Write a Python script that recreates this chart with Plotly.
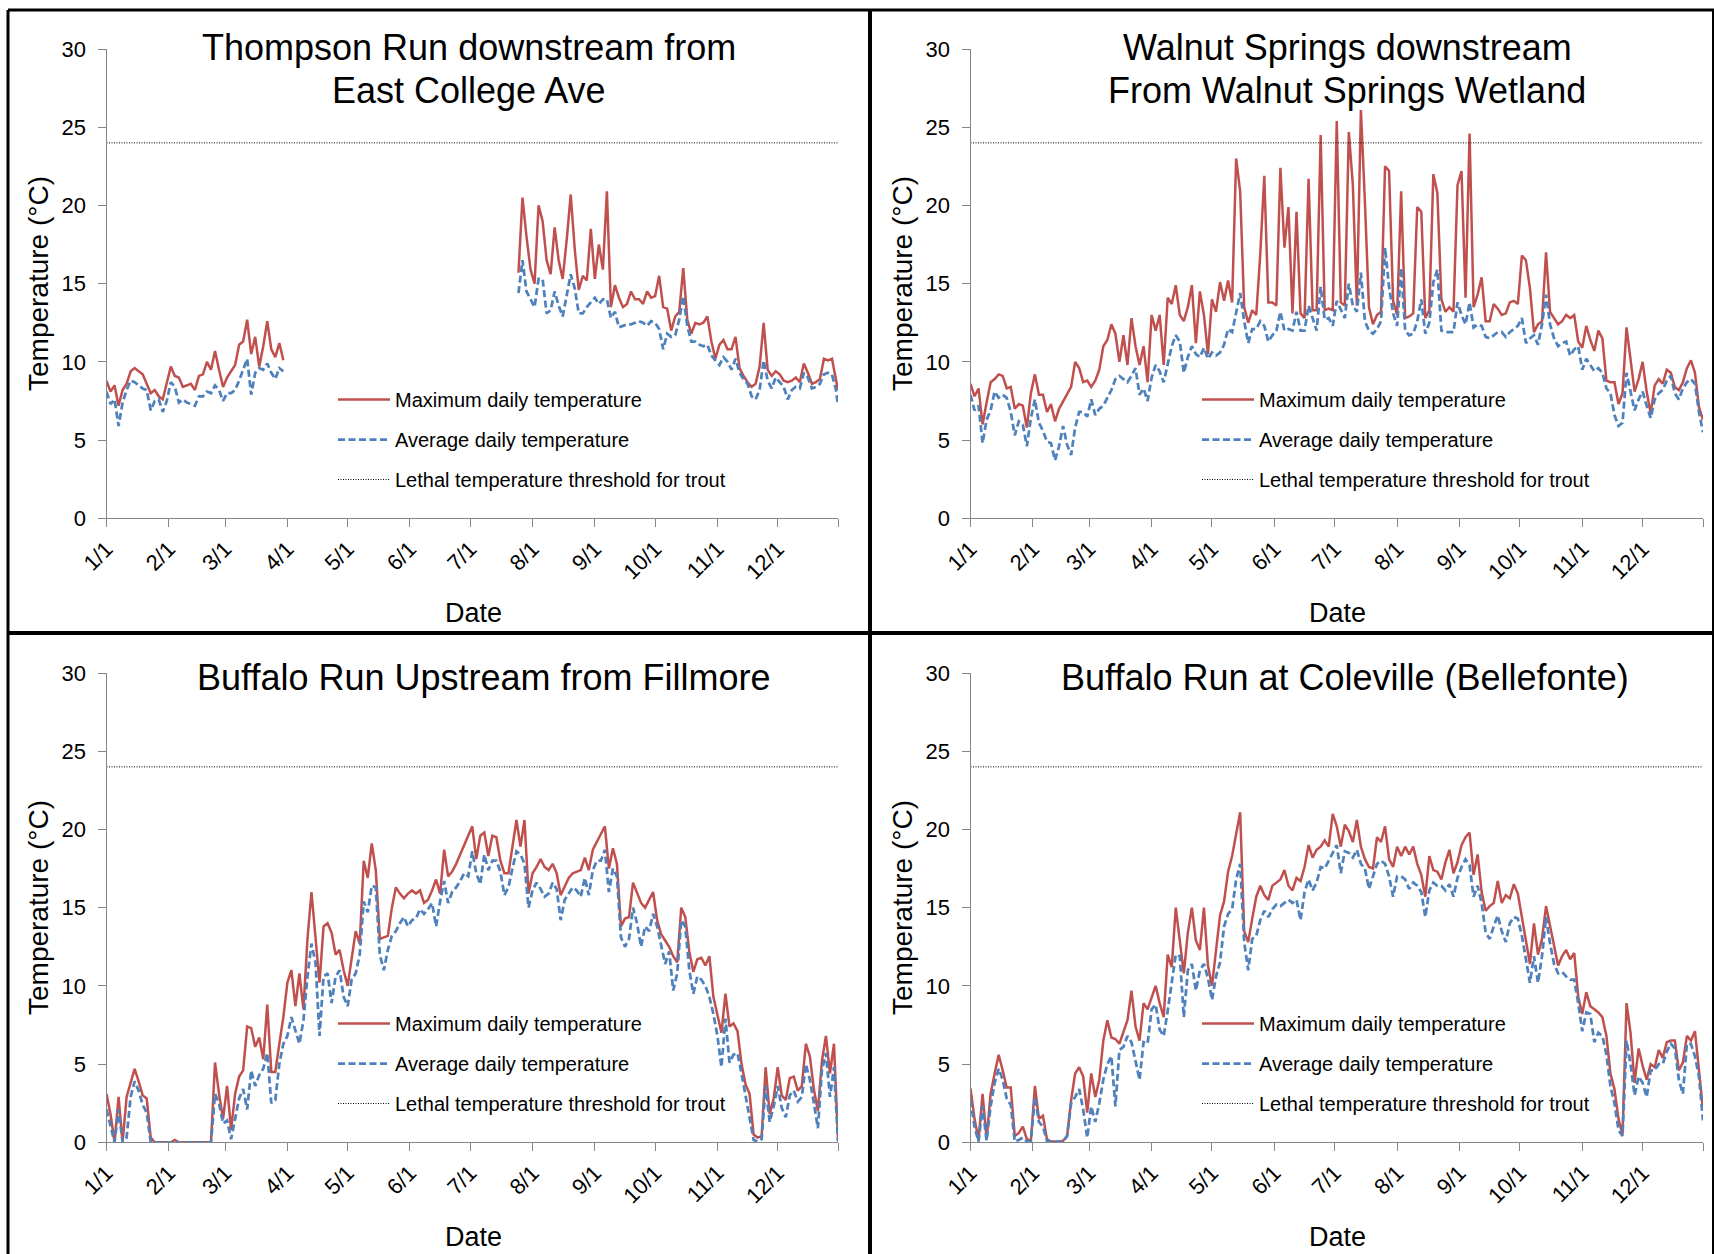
import pandas as pd
import plotly.graph_objects as go

# ---------------------------------------------------------------------------
# Data: daily water temperature (deg C), sampled every second day of the year
# (day 0 = 1 January). Thompson Run has a gap in the record (April - July).
# ---------------------------------------------------------------------------
YEAR_START = "2013-01-01"
YEAR_END = "2013-12-31"
THRESHOLD_C = 24  # lethal temperature threshold for trout

MONTH_TICKS = ["1/1", "2/1", "3/1", "4/1", "5/1", "6/1",
               "7/1", "8/1", "9/1", "10/1", "11/1", "12/1"]

ALL_DAYS = list(range(0, 365, 2))
THOMPSON_DAYS_A = list(range(0, 89, 2))
THOMPSON_DAYS_B = list(range(205, 364, 2)) + [364]

thompson_max_a = [8.8, 8.1, 8.5, 7.2, 8.2, 8.6, 9.4, 9.6, 9.4, 9.2,
                  8.6, 8.0, 8.2, 7.8, 7.6, 8.7, 9.7, 9.1, 9.0, 8.4,
                  8.5, 8.6, 8.2, 9.1, 9.2, 10.0, 9.5, 10.7, 9.5, 8.4,
                  9.0, 9.4, 9.8, 11.1, 11.3, 12.7, 10.5, 11.6, 9.7, 11.0,
                  12.6, 10.8, 10.3, 11.2, 10.1]
thompson_avg_a = [8.1, 7.3, 7.6, 5.9, 7.4, 8.2, 8.8, 8.7, 8.5, 8.3,
                  8.2, 6.9, 7.5, 7.6, 6.8, 7.5, 8.7, 8.4, 7.4, 7.6,
                  7.4, 7.3, 7.2, 7.8, 7.8, 8.1, 8.0, 8.5, 8.2, 7.5,
                  8.0, 8.0, 8.2, 8.8, 9.5, 10.2, 7.9, 9.3, 9.6, 9.5,
                  9.9, 9.3, 8.9, 9.6, 9.4]
thompson_max_b = [15.7, 20.5, 18.0, 15.9, 15.0, 20.0, 19.0, 16.5, 15.6, 18.6,
                  16.5, 15.3, 17.8, 20.7, 17.2, 14.6, 15.5, 15.2, 18.5, 15.3,
                  17.5, 15.9, 20.9, 13.5, 14.9, 14.1, 13.5, 13.7, 14.5, 14.0,
                  14.0, 13.7, 14.5, 14.1, 14.2, 15.5, 13.5, 13.4, 12.0, 12.9,
                  13.2, 16.0, 12.7, 11.8, 12.5, 12.4, 12.5, 12.9, 11.3, 10.2,
                  11.1, 11.4, 10.8, 10.8, 11.6, 9.6, 9.1, 8.7, 8.4, 8.6,
                  9.7, 12.5, 9.5, 9.1, 9.4, 9.2, 8.8, 8.7, 8.8, 9.0,
                  8.7, 9.9, 9.3, 8.6, 8.7, 8.9, 10.2, 10.1, 10.2, 8.8,
                  8.2]
thompson_avg_b = [14.4, 16.5, 14.5, 14.0, 13.5, 15.3, 15.3, 13.1, 13.3, 14.5,
                  13.6, 12.9, 14.3, 15.6, 14.7, 13.1, 13.1, 13.5, 13.8, 14.1,
                  13.7, 14.0, 14.0, 12.8, 13.2, 12.2, 12.3, 12.4, 12.4, 12.5,
                  12.6, 12.5, 12.3, 12.6, 12.5, 12.1, 10.8, 11.8, 11.6, 11.7,
                  12.7, 14.2, 12.3, 11.3, 11.3, 11.1, 11.0, 11.1, 10.4, 10.1,
                  9.8, 10.3, 10.0, 9.5, 10.2, 9.3, 8.9, 8.6, 7.8, 7.6,
                  8.2, 10.1, 8.8, 8.3, 9.0, 8.7, 8.4, 7.6, 8.2, 8.4,
                  8.3, 9.3, 9.0, 8.3, 8.4, 8.6, 9.2, 9.3, 9.2, 8.2,
                  7.2]

walnut_max = [8.6, 7.8, 8.3, 6.0, 7.4, 8.7, 8.9, 9.2, 9.1, 8.3,
              8.4, 7.0, 7.3, 7.2, 5.8, 8.0, 9.2, 7.9, 7.9, 6.8,
              7.3, 6.2, 7.0, 7.5, 8.0, 8.4, 10.0, 9.6, 8.7, 8.8,
              8.4, 8.8, 9.5, 11.0, 11.4, 12.4, 11.8, 10.0, 11.7, 9.8,
              12.8, 11.0, 9.8, 11.0, 8.7, 13.0, 12.0, 13.0, 9.8, 14.1,
              13.7, 14.9, 13.0, 12.6, 13.5, 14.9, 11.2, 14.5, 13.0, 10.5,
              14.0, 13.2, 15.1, 13.9, 15.2, 13.8, 23.0, 20.9, 13.5, 12.5,
              13.3, 13.0, 16.9, 21.9, 13.8, 13.8, 13.6, 22.4, 17.3, 19.9,
              13.1, 19.6, 13.1, 12.8, 21.7, 13.3, 13.3, 24.5, 13.3, 13.4,
              13.3, 25.4, 13.8, 13.6, 24.7, 21.3, 13.6, 26.1, 20.2, 13.5,
              12.4, 13.0, 13.2, 22.5, 22.2, 13.9, 13.0, 20.9, 12.8, 12.9,
              13.1, 19.9, 19.6, 12.8, 13.3, 22.0, 20.8, 14.0, 13.2, 13.5,
              13.2, 21.3, 22.2, 14.1, 24.6, 13.5, 14.3, 15.4, 12.6, 12.6,
              13.7, 13.4, 13.0, 13.1, 13.8, 13.9, 13.7, 16.8, 16.5, 14.7,
              11.9, 12.4, 12.6, 17.0, 13.2, 12.8, 12.4, 12.6, 13.0, 12.8,
              13.0, 11.3, 10.9, 12.3, 11.4, 10.7, 12.0, 11.5, 8.8, 8.7,
              8.7, 7.3, 8.0, 12.2, 10.0, 8.1, 8.9, 10.0, 8.1, 6.7,
              8.5, 8.9, 8.6, 9.5, 9.3, 8.4, 8.2, 8.7, 9.6, 10.1,
              9.3, 7.1, 6.3]
walnut_avg = [7.9, 6.9, 7.2, 4.8, 6.3, 6.9, 8.1, 7.7, 7.9, 7.7,
              6.8, 5.3, 6.2, 6.0, 4.6, 6.4, 7.6, 6.1, 5.6, 4.9,
              4.8, 3.7, 4.6, 5.9, 4.7, 4.05, 5.8, 6.8, 6.8, 6.5,
              7.6, 6.6, 7.0, 7.2, 7.7, 8.2, 8.9, 9.1, 8.9, 8.7,
              9.1, 9.6, 7.9, 8.3, 7.5, 9.0, 9.8, 9.4, 8.7, 9.9,
              11.0, 11.7, 11.3, 9.3, 10.3, 11.0, 10.5, 10.3, 10.9, 10.2,
              10.6, 10.4, 10.6, 11.1, 12.1, 11.9, 13.2, 14.4, 12.6, 11.2,
              12.1, 12.1, 12.6, 12.3, 11.3, 11.7, 12.0, 13.2, 12.0, 12.1,
              12.0, 13.2, 12.0, 12.0, 13.6, 12.8, 12.0, 14.8, 12.7, 12.8,
              12.3, 13.9, 13.3, 12.8, 15.0, 13.6, 13.2, 15.7, 12.6, 12.0,
              11.8, 12.1, 12.6, 17.3, 14.8, 13.1, 12.3, 16.0, 12.0, 11.7,
              11.8, 12.6, 14.0, 11.8, 12.5, 15.1, 15.9, 12.0, 11.9, 11.9,
              11.9, 13.8, 13.0, 12.4, 13.8, 12.2, 12.4, 12.3, 11.6, 11.5,
              11.7, 11.9, 11.9, 11.6, 11.9, 12.1, 12.3, 12.8, 11.2, 11.5,
              11.7, 11.1, 12.4, 14.3, 12.4, 11.5, 11.0, 11.2, 11.3, 10.4,
              10.8, 11.0, 9.5, 10.2, 9.8, 9.4, 9.6, 9.3, 8.3, 8.0,
              6.6, 5.9, 6.1, 9.3, 8.1, 6.9, 7.6, 8.1, 7.2, 6.4,
              7.6, 8.0, 8.2, 8.8, 9.1, 8.0, 7.6, 8.3, 8.7, 8.9,
              8.6, 6.8, 5.5]

fillmore_max = [3.1, 1.8, 0.0, 2.9, 0.0, 2.9, 3.8, 4.7, 3.9, 3.0,
                2.8, 0.3, 0.0, 0.0, 0.0, 0.0, 0.0, 0.15, 0.0, 0.0,
                0.0, 0.0, 0.0, 0.0, 0.0, 0.0, 0.0, 5.1, 3.1, 1.5,
                3.6, 0.8, 3.1, 4.2, 4.6, 7.4, 7.3, 6.1, 6.7, 5.3,
                8.8, 4.5, 4.5, 6.3, 8.0, 10.2, 11.0, 8.7, 10.8, 8.5,
                13.0, 16.0, 13.0, 10.2, 13.8, 14.0, 13.4, 12.0, 12.3, 11.0,
                10.0, 11.8, 13.5, 12.7, 18.0, 16.9, 19.1, 17.4, 13.0, 13.1,
                13.2, 15.0, 16.3, 15.9, 15.6, 15.9, 16.1, 15.9, 16.1, 15.3,
                15.5, 16.1, 16.8, 15.9, 18.7, 17.0, 17.3, 17.8, 18.4, 18.9,
                19.5, 20.2, 18.1, 19.6, 19.8, 18.3, 19.6, 19.5, 18.0, 17.2,
                17.2, 18.8, 20.6, 18.9, 20.6, 15.9, 17.2, 17.6, 18.1, 17.6,
                17.4, 17.8, 17.2, 15.8, 16.3, 16.9, 17.2, 17.3, 17.4, 18.2,
                17.4, 18.7, 19.2, 19.6, 20.2, 17.5, 18.8, 17.8, 13.8, 14.3,
                14.4, 16.6, 15.9, 15.3, 15.0, 15.5, 16.0, 14.2, 13.3, 12.9,
                12.5, 11.9, 11.5, 15.0, 14.4, 12.2, 10.9, 11.7, 11.8, 11.3,
                11.9, 9.3, 8.1, 7.0, 9.5, 7.4, 7.6, 7.1, 5.0, 3.7,
                3.1, 0.5, 0.3, 0.4, 4.8, 1.8, 2.8, 4.8, 3.0, 2.7,
                4.1, 4.2, 3.3, 3.6, 6.3, 5.5, 3.4, 2.0, 5.2, 6.8,
                4.4, 6.3, 0.2]
fillmore_avg = [2.1, 1.0, 0.0, 2.1, 0.0, 0.3, 2.9, 3.9, 3.3, 2.4,
                1.9, 0.0, 0.0, 0.0, 0.0, 0.0, 0.0, 0.0, 0.0, 0.0,
                0.0, 0.0, 0.0, 0.0, 0.0, 0.0, 0.0, 3.1, 2.5, 1.2,
                1.4, 0.2, 1.6, 2.8, 3.4, 2.1, 4.6, 3.6, 4.3, 4.7,
                5.7, 2.5, 2.7, 5.0, 6.3, 6.8, 8.0, 7.1, 6.3, 7.8,
                10.6, 12.7, 11.5, 6.8, 10.6, 10.8, 8.9, 10.6, 11.0, 9.3,
                8.7, 10.4, 10.8, 12.0, 15.4, 14.7, 16.4, 16.3, 12.0, 11.0,
                12.3, 13.2, 13.5, 14.0, 14.4, 13.8, 14.2, 14.3, 14.9, 14.6,
                14.9, 15.3, 13.8, 15.4, 16.7, 15.3, 16.0, 16.3, 16.7, 17.2,
                17.0, 18.6, 17.2, 16.5, 18.4, 17.4, 18.0, 18.0, 17.3, 15.8,
                16.3, 17.5, 18.6, 18.4, 17.8, 15.0, 16.1, 16.6, 16.2, 15.7,
                15.9, 16.6, 16.2, 14.2, 15.5, 15.9, 16.3, 16.1, 15.7, 16.9,
                15.8, 17.4, 18.0, 18.0, 18.7, 16.0, 17.5, 17.0, 13.1, 12.5,
                13.0, 15.0, 14.0, 12.5, 13.8, 13.5, 14.6, 13.8, 12.7, 11.4,
                12.2, 9.7, 10.8, 14.2, 13.8, 11.0, 9.5, 10.6, 10.4, 10.0,
                9.3, 8.2, 6.8, 4.8, 7.9, 5.1, 5.6, 5.7, 4.4, 2.9,
                1.4, 0.15, 0.05, 0.2, 3.6, 1.3, 2.3, 3.6, 2.2, 1.6,
                3.0, 3.3, 2.6, 2.9, 5.0, 4.0, 2.5, 0.9, 4.6, 5.7,
                2.9, 4.8, 0.05]

coleville_max = [3.45, 1.5, 0.15, 3.1, 0.25, 3.1, 4.4, 5.6, 4.6, 3.5,
                 3.5, 0.4, 0.6, 1.0, 0.2, 0.1, 3.6, 1.5, 1.7, 0.2,
                 0.05, 0.05, 0.05, 0.1, 0.4, 2.7, 4.4, 4.8, 4.2, 1.9,
                 4.4, 2.9, 4.0, 6.5, 7.8, 6.7, 6.6, 6.3, 7.0, 7.8,
                 9.7, 7.4, 6.5, 8.9, 8.5, 9.3, 10.0, 8.9, 8.0, 12.0,
                 11.2, 15.0, 12.9, 10.8, 13.4, 15.0, 12.9, 12.3, 15.0, 11.3,
                 10.0, 12.3, 14.5, 15.4, 17.3, 18.3, 19.8, 21.1, 13.5, 12.8,
                 14.3, 15.7, 16.4, 15.8, 15.5, 16.4, 16.6, 16.8, 17.4, 16.4,
                 16.1, 16.9, 16.7, 17.6, 19.0, 18.2, 18.7, 18.9, 19.3, 18.9,
                 21.0, 20.2, 18.9, 20.3, 19.9, 19.2, 20.6, 18.9, 18.1, 17.6,
                 17.5, 19.5, 19.2, 20.2, 18.1, 17.6, 18.9, 18.3, 18.9, 18.4,
                 18.9, 17.8, 17.1, 15.7, 18.3, 17.4, 17.3, 16.8, 17.9, 18.7,
                 17.2, 17.9, 19.0, 19.5, 19.8, 17.1, 18.4, 16.0, 14.8, 15.1,
                 15.3, 16.7, 15.3, 15.8, 15.6, 16.5, 15.9, 14.5, 12.9, 11.4,
                 14.0, 12.0, 13.0, 15.1, 13.8, 12.5, 11.3, 11.9, 12.3, 11.7,
                 12.1, 9.3, 8.2, 9.6, 8.7, 8.5, 8.3, 8.0, 6.8, 4.4,
                 3.4, 1.5, 0.5, 8.9, 7.0, 3.8, 6.0, 4.9, 4.0, 5.0,
                 4.8, 5.9, 5.4, 6.4, 6.5, 6.5, 4.6, 5.1, 6.8, 6.5,
                 7.1, 4.6, 2.1]
coleville_avg = [2.7, 1.0, 0.05, 2.3, 0.1, 2.3, 3.8, 4.7, 4.0, 2.8,
                 2.4, 0.05, 0.15, 0.3, 0.05, 0.1, 2.9, 1.3, 1.0, 0.1,
                 0.05, 0.05, 0.05, 0.05, 0.4, 2.5, 2.9, 3.4, 2.1, 0.3,
                 2.3, 1.3, 2.5, 4.0, 5.0, 5.5, 2.3, 5.9, 6.1, 6.8,
                 6.4, 5.3, 4.0, 6.4, 6.3, 8.5, 8.8, 7.2, 6.8, 8.4,
                 10.2, 12.0, 11.9, 8.0, 11.0, 11.4, 9.7, 11.0, 11.4, 10.5,
                 9.1, 10.6, 11.5, 13.8, 14.6, 14.9, 16.8, 17.8, 12.8, 11.0,
                 13.0, 13.2, 14.2, 14.8, 14.4, 14.9, 15.2, 15.1, 15.3, 15.5,
                 15.3, 15.5, 14.2, 16.0, 16.8, 16.1, 16.6, 17.6, 17.5, 18.0,
                 18.6, 19.0, 17.2, 18.6, 18.5, 18.2, 18.7, 17.8, 17.5, 16.2,
                 17.0, 17.8, 18.0, 17.8, 17.0, 15.7, 17.0, 17.0, 16.8, 16.2,
                 16.6, 16.4, 16.0, 14.4, 16.1, 16.6, 16.4, 16.4, 16.1, 16.5,
                 15.7, 16.9, 17.6, 18.1, 17.7, 15.7, 16.4, 15.3, 13.4, 13.0,
                 13.8, 14.5, 13.5, 12.8, 14.0, 14.4, 14.3, 13.2, 11.7, 10.2,
                 11.9, 10.2, 11.9, 14.4, 12.7, 11.4, 10.8, 10.9, 10.6, 10.4,
                 10.4, 8.9, 7.1, 8.3, 8.2, 6.4, 7.0, 6.8, 5.6, 3.6,
                 2.5, 0.8, 0.4, 6.5, 5.0, 3.0, 4.2, 3.8, 2.9, 4.6,
                 4.6, 5.0, 5.0, 5.8, 6.3, 6.0, 4.0, 3.1, 6.3, 6.3,
                 5.5, 4.2, 1.4]

# ---------------------------------------------------------------------------
# Styling
# ---------------------------------------------------------------------------
W, H = 1714, 1254
FONT = "Liberation Sans, Arial, sans-serif"
RED = "#C0504D"
BLUE = "#4F81BD"
AXIS_GREY = "#868686"

base = pd.Timestamp(YEAR_START)


def to_dates(days):
    return [base + pd.Timedelta(days=d) for d in days]


def px_x(v):
    return v / W


def px_y(v):
    return 1 - v / H


fig = go.Figure()

thompson_x = to_dates(THOMPSON_DAYS_A) + [base + pd.Timedelta(days=150)] + to_dates(THOMPSON_DAYS_B)
thompson_max = thompson_max_a + [None] + thompson_max_b
thompson_avg = thompson_avg_a + [None] + thompson_avg_b
all_x = to_dates(ALL_DAYS)

# (title lines, x dates, maximum series, average series)
panels = [
    (["Thompson Run downstream from", "East College Ave"], thompson_x, thompson_max, thompson_avg),
    (["Walnut Springs downstream", "From Walnut Springs Wetland"], all_x, walnut_max, walnut_avg),
    (["Buffalo Run Upstream from Fillmore"], all_x, fillmore_max, fillmore_avg),
    (["Buffalo Run at Coleville (Bellefonte)"], all_x, coleville_max, coleville_avg),
]

# plot-area pixel boxes: (left, right, top, bottom)
boxes = [
    (106.5, 838.0, 49.0, 518.3),
    (970.5, 1703.0, 49.0, 518.3),
    (106.5, 838.0, 673.0, 1142.3),
    (970.5, 1703.0, 673.0, 1142.3),
]
title_x = [469, 1347, 484, 1345]
title_y = [[48, 90], [48, 90], [677], [677]]
ytitle_pos = [(38, 284), (902, 284), (38, 908), (902, 908)]
xtitle_pos = [(473, 613), (1337, 613), (473, 1237), (1337, 1237)]
legend_pos = [(333, 380), (1197, 380), (333, 1004), (1197, 1004)]

tickvals = list(pd.date_range(YEAR_START, periods=12, freq="MS")) + [pd.Timestamp(YEAR_END)]
ticktext = MONTH_TICKS + [""]

annotations = []
for i, (title_lines, xs, ymax, yavg) in enumerate(panels):
    n = "" if i == 0 else str(i + 1)
    xa, ya = "x" + n, "y" + n
    leg = "legend" + n
    fig.add_trace(go.Scatter(
        x=xs, y=ymax, mode="lines", name="Maximum daily temperature",
        line=dict(color=RED, width=2.5), xaxis=xa, yaxis=ya, legend=leg,
        legendgroup=f"max{i}", connectgaps=False))
    fig.add_trace(go.Scatter(
        x=xs, y=yavg, mode="lines", name="Average daily temperature",
        line=dict(color=BLUE, width=2.75, dash="7px,3.5px"), xaxis=xa, yaxis=ya, legend=leg,
        legendgroup=f"avg{i}", connectgaps=False))
    fig.add_trace(go.Scatter(
        x=[YEAR_START, YEAR_END], y=[THRESHOLD_C, THRESHOLD_C], mode="lines",
        name="Lethal temperature threshold for trout",
        line=dict(color="#000000", width=1, dash="1px,1.5px"), xaxis=xa, yaxis=ya, legend=leg,
        legendgroup=f"thr{i}"))

    l, r, t, b = boxes[i]
    axis_common = dict(
        showline=True, linecolor=AXIS_GREY, linewidth=1, showgrid=False, zeroline=False,
        ticks="outside", ticklen=8, tickwidth=1, tickcolor=AXIS_GREY, automargin=False,
    )
    fig.update_layout(**{
        "xaxis" + n: dict(
            domain=[px_x(l), px_x(r)], anchor=ya, type="date",
            range=[YEAR_START, YEAR_END], tickvals=tickvals, ticktext=ticktext,
            tickangle=-45, tickfont=dict(family=FONT, size=22, color="#000000"),
            **axis_common),
        "yaxis" + n: dict(
            domain=[px_y(b), px_y(t)], anchor=xa, range=[0, 30],
            tickvals=[0, 5, 10, 15, 20, 25, 30], ticklabelstandoff=7,
            tickfont=dict(family=FONT, size=22, color="#000000"), **axis_common),
        leg: dict(
            x=px_x(legend_pos[i][0]), y=px_y(legend_pos[i][1]), xanchor="left", yanchor="top",
            bgcolor="rgba(0,0,0,0)", font=dict(family=FONT, size=20, color="#000000"),
            itemwidth=52, tracegroupgap=11, traceorder="grouped"),
    })

    for line_text, ty in zip(title_lines, title_y[i]):
        annotations.append(dict(
            text=line_text, x=px_x(title_x[i]), y=px_y(ty), xref="paper", yref="paper",
            xanchor="center", yanchor="middle", showarrow=False,
            font=dict(family=FONT, size=36, color="#000000")))
    yx, yy = ytitle_pos[i]
    annotations.append(dict(
        text="Temperature (°C)", x=px_x(yx), y=px_y(yy), xref="paper", yref="paper",
        xanchor="center", yanchor="middle", textangle=-90, showarrow=False,
        font=dict(family=FONT, size=28, color="#000000")))
    dx, dy = xtitle_pos[i]
    annotations.append(dict(
        text="Date", x=px_x(dx), y=px_y(dy), xref="paper", yref="paper",
        xanchor="center", yanchor="middle", showarrow=False,
        font=dict(family=FONT, size=27, color="#000000")))

# panel frames
frame = dict(type="line", xref="paper", yref="paper", line=dict(color="#000000", width=3))
shapes = [
    dict(frame, x0=px_x(8), x1=px_x(8), y0=0, y1=px_y(10)),
    dict(frame, x0=px_x(8), x1=1, y0=px_y(10), y1=px_y(10)),
    dict(frame, x0=px_x(870), x1=px_x(870), y0=0, y1=px_y(10), line=dict(color="#000000", width=4)),
    dict(frame, x0=px_x(8), x1=1, y0=px_y(633), y1=px_y(633), line=dict(color="#000000", width=4)),
    dict(frame, x0=px_x(1713), x1=px_x(1713), y0=0, y1=px_y(10), line=dict(color="#000000", width=2)),
]

fig.update_layout(
    width=W, height=H, margin=dict(l=0, r=0, t=0, b=0, pad=0, autoexpand=False),
    paper_bgcolor="#ffffff", plot_bgcolor="#ffffff",
    font=dict(family=FONT, color="#000000"),
    annotations=annotations, shapes=shapes, showlegend=True,
)

fig.write_html("out.html")
